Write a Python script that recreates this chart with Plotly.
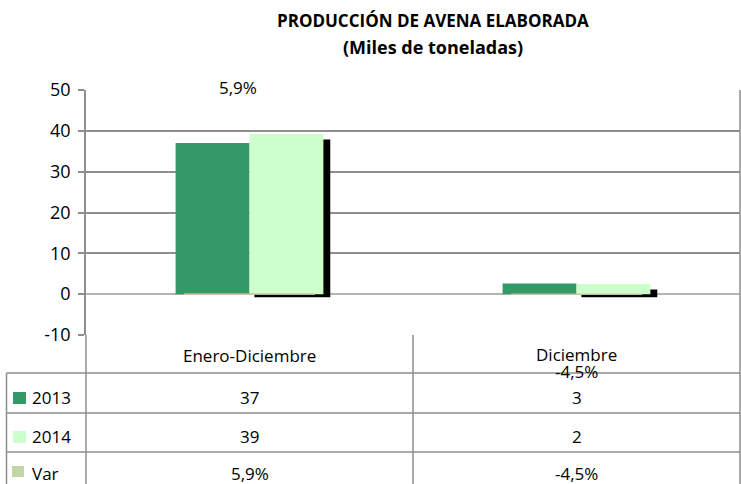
import plotly.graph_objects as go

# ---- data ----
categories = ["Enero-Diciembre", "Diciembre"]
serie_2013 = [37.0, 2.62]
serie_2014 = [39.2, 2.49]
var_pct = [5.9, -4.5]
series_names = ["2013", "2014", "Var"]
y_ticks = [-10, 0, 10, 20, 30, 40, 50]
title_lines = ["PRODUCCIÓN DE AVENA ELABORADA", "(Miles de toneladas)"]

# ---- styles ----
C2013 = "#339966"
C2014 = "#ccffcc"
CVAR = "#c4d6a6"
GRID = "#8e8e8e"
FONT = "'Open Sans', Lato, sans-serif"
BW = 0.226  # bar width in category units

W, H = 741, 484
ML, MR, MT, MB = 86, 1, 90, 149
PW = W - ML - MR
PH = H - MT - MB


def px_x(px):
    return (px - ML) / PW


def px_y(py):
    return (H - MB - py) / PH


def fmt_pct(v):
    return f"{v:.1f}%".replace(".", ",")


fig = go.Figure()

# drop shadow behind the 2014 bars
fig.add_trace(go.Bar(
    x=categories, y=[v - 0.6 for v in serie_2014], base=[-0.75] * len(categories),
    width=0.232, offset=0.015, marker=dict(color="black", line=dict(width=0)),
    showlegend=False, hoverinfo="skip"))
fig.add_trace(go.Bar(
    x=categories, y=serie_2013, width=BW, offset=-BW, name=series_names[0],
    marker=dict(color=C2013, line=dict(width=0)), showlegend=False))
fig.add_trace(go.Bar(
    x=categories, y=serie_2014, width=BW, offset=0, name=series_names[1],
    marker=dict(color=C2014, line=dict(width=0)), showlegend=False))
fig.add_trace(go.Bar(
    x=categories, y=[v / 100 for v in var_pct], width=0.4, offset=-0.2,
    name=series_names[2],
    marker=dict(color="#c8c8a0", line=dict(color="#c8c8a0", width=1)),
    showlegend=False))

fig.update_layout(
    width=W, height=H,
    margin=dict(l=ML, r=MR, t=MT, b=MB, autoexpand=False),
    paper_bgcolor="white", plot_bgcolor="white",
    barmode="overlay",
    font=dict(family=FONT, size=16, color="black"),
    showlegend=False,
)
fig.update_xaxes(
    type="category", range=[-0.5, 1.5], showticklabels=False, showgrid=False,
    zeroline=False, showline=False, ticks="", automargin=False)
fig.update_yaxes(
    range=[-10, 50], tickvals=y_ticks, ticktext=[str(t) for t in y_ticks],
    showgrid=True, gridcolor=GRID, gridwidth=1.5,
    zeroline=True, zerolinecolor="#b4b4b4", zerolinewidth=1.5,
    showline=True, linecolor=GRID, linewidth=1.5,
    ticks="outside", ticklen=6, tickcolor=GRID, tickwidth=1.5, automargin=False,
    ticklabelstandoff=4,
    tickfont=dict(family=FONT, size=18, color="black"))

shapes = []
line = dict(color=GRID, width=1.5)
x_left = px_x(6.5)
y_bottom = px_y(H + 5)
row_lines = [px_y(373), px_y(413), px_y(452)]
for yy in row_lines:
    shapes.append(dict(type="line", xref="paper", yref="paper", x0=x_left, x1=1,
                       y0=yy, y1=yy, line=line))
shapes.append(dict(type="line", xref="paper", yref="paper", x0=x_left, x1=x_left,
                   y0=row_lines[0], y1=y_bottom, line=line))
for xx in [0, 0.5]:
    shapes.append(dict(type="line", xref="paper", yref="paper", x0=xx, x1=xx,
                       y0=0, y1=y_bottom, line=line))
shapes.append(dict(type="line", xref="paper", yref="paper", x0=1, x1=1,
                   y0=1, y1=y_bottom, line=line))

# legend swatches in the table
sw = [(13, 26, 392, 404, C2013), (13, 26, 431, 443, C2014), (12, 24, 466, 477, CVAR)]
for x0, x1, y0, y1, c in sw:
    shapes.append(dict(type="rect", xref="paper", yref="paper",
                       x0=px_x(x0), x1=px_x(x1), y0=px_y(y1), y1=px_y(y0),
                       fillcolor=c, line=dict(width=0)))

annotations = []
# title
for txt, py, fs in zip(title_lines, [21, 47], [17, 18]):
    annotations.append(dict(text=f"<b>{txt}</b>", xref="paper", yref="paper",
                            x=px_x(433), y=px_y(py), showarrow=False,
                            xanchor="center", yanchor="middle",
                            font=dict(family=FONT, size=fs, color="black")))

# var data labels (Excel placement)
annotations.append(dict(text=fmt_pct(var_pct[0]), xref="x", yref="paper",
                        x=categories[0], xshift=-12, y=px_y(87), showarrow=False,
                        yanchor="middle", font=dict(family=FONT, size=17)))
annotations.append(dict(text=fmt_pct(var_pct[1]), xref="x", yref="paper",
                        x=categories[1], y=px_y(371), showarrow=False,
                        yanchor="middle", font=dict(family=FONT, size=17)))

# table header
for i, c in enumerate(categories):
    annotations.append(dict(text=c, xref="x", yref="paper", x=c, y=px_y(355 if i == 0 else 354),
                            showarrow=False, yanchor="middle",
                            font=dict(family=FONT, size=17)))

row_y = [px_y(397), px_y(436), px_y(473)]
row_vals = [
    [f"{v:.0f}" for v in serie_2013],
    [f"{v:.0f}" for v in serie_2014],
    [fmt_pct(v) for v in var_pct],
]
for name, yy, vals in zip(series_names, row_y, row_vals):
    annotations.append(dict(text=name, xref="paper", yref="paper", x=px_x(30), y=yy,
                            showarrow=False, xanchor="left", yanchor="middle",
                            font=dict(family=FONT, size=17)))
    for c, v in zip(categories, vals):
        annotations.append(dict(text=v, xref="x", yref="paper", x=c, y=yy,
                                showarrow=False, yanchor="middle",
                                font=dict(family=FONT, size=17)))

fig.update_layout(shapes=shapes, annotations=annotations)
fig.write_html("out.html", config={"displayModeBar": False},
               post_script="document.body.style.margin='0';document.body.style.overflow='hidden';")
